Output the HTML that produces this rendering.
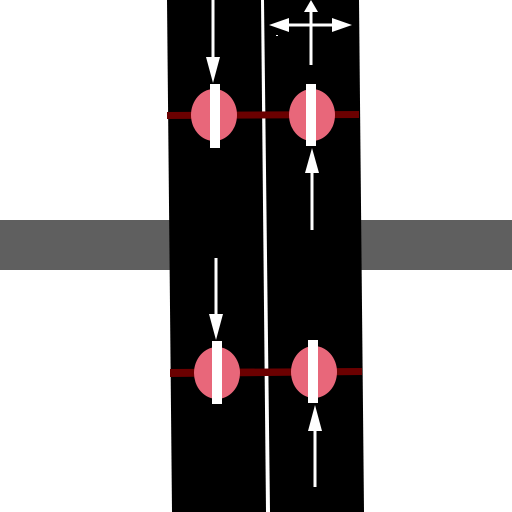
<!DOCTYPE html>
<html><head><meta charset="utf-8"><style>html,body{margin:0;padding:0;background:#fff}svg{display:block}</style></head>
<body>
<svg width="512" height="512" viewBox="0 0 512 512">
<rect x="0" y="0" width="512" height="512" fill="#fff"/>
<rect x="0" y="220" width="512" height="50" fill="#5f5f5f"/>
<polygon points="167,0 359,0 364,512 172,512" fill="#000"/>
<polygon points="261,0 264,0 270,512 266,512" fill="#fff"/>
<g>
<polygon points="167,112 359,111 359,118 167,119" fill="#6b0000"/>
</g>
<g>
<polygon points="170,369 362,368 362,375 170,377" fill="#6b0000"/>
</g>
<g fill="#e8677a">
<ellipse cx="214" cy="115" rx="23" ry="26"/>
<ellipse cx="312" cy="115" rx="23" ry="26"/>
<ellipse cx="217" cy="373" rx="23" ry="26"/>
<ellipse cx="314" cy="372" rx="23" ry="26"/>
</g>
<g fill="#fff">
<rect x="210" y="84" width="10" height="64"/>
<rect x="306" y="84" width="10" height="62"/>
<rect x="212" y="341" width="10" height="63"/>
<rect x="308" y="340" width="10" height="63"/>
</g>
<g fill="#fff" stroke="#fff">
<g><line x1="213" y1="0" x2="213" y2="60" stroke-width="3"/><polygon points="206,57 220,57 213,83" stroke="none"/></g>
<g><line x1="312" y1="230" x2="312" y2="170" stroke-width="3"/><polygon points="305,173 319,173 312,148" stroke="none"/></g>
<g><line x1="311" y1="8" x2="311" y2="65" stroke-width="3"/><polygon points="304,12 318,12 311,0" stroke="none"/><line x1="285" y1="25" x2="338" y2="25" stroke-width="3"/><polygon points="269,25 289,18 289,32" stroke="none"/><polygon points="352,25 332,18 332,32" stroke="none"/><rect x="276" y="35" width="2" height="1" stroke="none"/></g>
<g><line x1="216" y1="258" x2="216" y2="318" stroke-width="3"/><polygon points="209,314 223,314 216,340" stroke="none"/></g>
<g><line x1="315" y1="487" x2="315" y2="428" stroke-width="3"/><polygon points="308,431 322,431 315,405" stroke="none"/></g>
</g>
</svg>
</body></html>
